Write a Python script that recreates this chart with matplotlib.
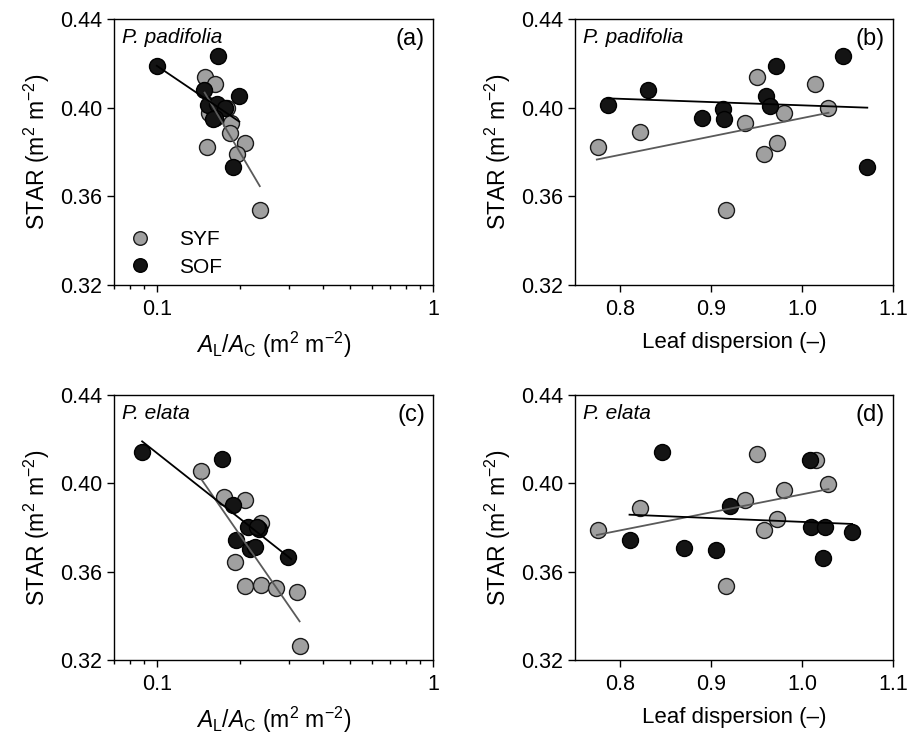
import numpy as np
import matplotlib
matplotlib.use("Agg")
import matplotlib.pyplot as plt
from matplotlib.ticker import FixedLocator, FixedFormatter, NullFormatter, LogLocator

plt.rcParams['font.family'] = ['Liberation Sans', 'DejaVu Sans']
plt.rcParams['mathtext.fontset'] = 'custom'
plt.rcParams['mathtext.rm'] = 'Liberation Sans'
plt.rcParams['mathtext.it'] = 'Liberation Sans:italic'

# ---------------- data ----------------
# Panel (a): P. padifolia, STAR vs AL/AC
a_syf_x = [0.150, 0.163, 0.180, 0.1545, 0.185, 0.184, 0.152, 0.208, 0.195, 0.236]
a_syf_y = [0.4138, 0.4107, 0.3997, 0.3975, 0.3929, 0.3887, 0.3823, 0.3839, 0.3790, 0.3537]
a_sof_x = [0.100, 0.166, 0.148, 0.198, 0.153, 0.165, 0.176, 0.163, 0.160, 0.1886]
a_sof_y = [0.4189, 0.4234, 0.4080, 0.4053, 0.4012, 0.4015, 0.3997, 0.3952, 0.3947, 0.3733]
a_syf_line_x = [0.149, 0.236]
a_syf_line_y = [0.4068, 0.3646]
a_sof_line_x = [0.100, 0.199]
a_sof_line_y = [0.4189, 0.3937]

# Panel (b): P. padifolia, STAR vs leaf dispersion
b_syf_x = [0.775, 0.821, 0.9165, 0.9368, 0.9504, 0.9585, 0.9724, 0.9798, 1.0143, 1.029]
b_syf_y = [0.3823, 0.3888, 0.3537, 0.3929, 0.4137, 0.3793, 0.3842, 0.3974, 0.4107, 0.3997]
b_sof_x = [0.786, 0.830, 0.890, 0.913, 0.9136, 0.9607, 0.9643, 0.971, 1.0445, 1.071]
b_sof_y = [0.4012, 0.4080, 0.3955, 0.3994, 0.3947, 0.4054, 0.4009, 0.4186, 0.4234, 0.3733]
b_syf_line_x = [0.774, 1.029]
b_syf_line_y = [0.3766, 0.3977]
b_sof_line_x = [0.786, 1.0717]
b_sof_line_y = [0.4042, 0.4000]

# Panel (c): P. elata, STAR vs AL/AC
c_syf_x = [0.1447, 0.1758, 0.2089, 0.238, 0.1922, 0.208, 0.2388, 0.2706, 0.3215, 0.3289]
c_syf_y = [0.4054, 0.3937, 0.3926, 0.3820, 0.3642, 0.3534, 0.3541, 0.3526, 0.3506, 0.3265]
c_sof_x = [0.0885, 0.1725, 0.1886, 0.2138, 0.234, 0.1938, 0.2168, 0.226, 0.2299, 0.2997]
c_sof_y = [0.4143, 0.4110, 0.3902, 0.3804, 0.3793, 0.3745, 0.3703, 0.3710, 0.3801, 0.3665]
c_syf_line_x = [0.1447, 0.3289]
c_syf_line_y = [0.4020, 0.3375]
c_sof_line_x = [0.0885, 0.3066]
c_sof_line_y = [0.4190, 0.3657]

# Panel (d): P. elata, STAR vs leaf dispersion
d_syf_x = [0.775, 0.821, 0.9165, 0.9368, 0.9504, 0.9585, 0.9724, 0.9798, 1.015, 1.029]
d_syf_y = [0.3790, 0.3887, 0.3534, 0.3926, 0.4134, 0.3790, 0.3838, 0.3971, 0.4104, 0.3997]
d_sof_x = [0.846, 0.810, 0.870, 0.9055, 0.921, 1.0085, 1.0092, 1.025, 1.0232, 1.0544]
d_sof_y = [0.4143, 0.3745, 0.3707, 0.3700, 0.3899, 0.4106, 0.3801, 0.3804, 0.3662, 0.3781]
d_syf_line_x = [0.774, 1.029]
d_syf_line_y = [0.3766, 0.3974]
d_sof_line_x = [0.810, 1.055]
d_sof_line_y = [0.3858, 0.3816]

species = ["P. padifolia", "P. padifolia", "P. elata", "P. elata"]
panel_tags = ["(a)", "(b)", "(c)", "(d)"]
y_ticks = [0.32, 0.36, 0.40, 0.44]
y_ticklabels = ["0.32", "0.36", "0.40", "0.44"]
disp_ticks = [0.8, 0.9, 1.0, 1.1]
disp_ticklabels = ["0.8", "0.9", "1.0", "1.1"]

# ---------------- style ----------------
SYF_FC = "#a0a0a0"
SOF_FC = "#141414"
SYF_LC = "#5a5a5a"
SOF_LC = "#000000"
MS = 11.5

fig = plt.figure(figsize=(9.09, 7.41), dpi=100)
W, H = 909, 741
def add_ax(x0, y0, x1, y1):
    return fig.add_axes([x0 / W, 1 - y1 / H, (x1 - x0) / W, (y1 - y0) / H])

axA = add_ax(114, 19, 433, 285)
axB = add_ax(575, 19, 893, 285)
axC = add_ax(114, 395, 433, 660)
axD = add_ax(575, 395, 893, 660)

panels = [
    (axA, a_syf_x, a_syf_y, a_sof_x, a_sof_y, a_syf_line_x, a_syf_line_y, a_sof_line_x, a_sof_line_y, True),
    (axB, b_syf_x, b_syf_y, b_sof_x, b_sof_y, b_syf_line_x, b_syf_line_y, b_sof_line_x, b_sof_line_y, False),
    (axC, c_syf_x, c_syf_y, c_sof_x, c_sof_y, c_syf_line_x, c_syf_line_y, c_sof_line_x, c_sof_line_y, True),
    (axD, d_syf_x, d_syf_y, d_sof_x, d_sof_y, d_syf_line_x, d_syf_line_y, d_sof_line_x, d_sof_line_y, False),
]

for i, (ax, sx, sy, ox, oy, slx, sly, olx, oly, islog) in enumerate(panels):
    ax.plot(sx, sy, 'o', ms=MS, mfc=SYF_FC, mec='#1a1a1a', mew=1.0, ls='none', zorder=3, label='SYF')
    ax.plot(ox, oy, 'o', ms=MS, mfc=SOF_FC, mec='#000000', mew=1.0, ls='none', zorder=3, label='SOF')
    ax.plot(slx, sly, '-', color=SYF_LC, lw=1.3, zorder=4)
    ax.plot(olx, oly, '-', color=SOF_LC, lw=1.3, zorder=4)

    ax.set_ylim(0.32, 0.44)
    ax.set_yticks(y_ticks)
    ax.set_yticklabels(y_ticklabels)
    ax.set_ylabel(r"STAR (m$^{2}$ m$^{-2}$)", fontsize=16.5, labelpad=6)

    if islog:
        ax.set_xscale('log')
        ax.set_xlim(0.07, 1.0)
        ax.xaxis.set_major_locator(FixedLocator([0.1, 1.0]))
        ax.xaxis.set_major_formatter(FixedFormatter(["0.1", "1"]))
        ax.xaxis.set_minor_locator(LogLocator(base=10, subs=np.arange(2, 10) * 1.0, numticks=20))
        ax.xaxis.set_minor_formatter(NullFormatter())
        ax.set_xlabel(r"$\mathit{A}_{\mathrm{L}}/\mathit{A}_{\mathrm{C}}$ (m$^{2}$ m$^{-2}$)",
                      fontsize=16.5, labelpad=7)
    else:
        ax.set_xlim(0.75, 1.1)
        ax.set_xticks(disp_ticks)
        ax.set_xticklabels(disp_ticklabels)
        ax.set_xlabel("Leaf dispersion (\u2013)", fontsize=16, labelpad=9)

    ax.tick_params(axis='both', which='major', direction='out', length=5, width=1.0, labelsize=15.5,
                   top=False, right=False)
    ax.tick_params(axis='x', which='major', pad=5)
    ax.tick_params(axis='x', which='minor', direction='out', length=3, width=1.0)
    for s in ax.spines.values():
        s.set_linewidth(1.0)

    ax.text(0.025, 0.965, species[i], transform=ax.transAxes, ha='left', va='top',
            fontsize=15, style='italic')
    ax.text(0.975, 0.965, panel_tags[i], transform=ax.transAxes, ha='right', va='top', fontsize=17)

leg = axA.legend(loc='lower left', frameon=False, fontsize=15, handlelength=1.0, markerscale=0.85,
                 handletextpad=1.35, borderaxespad=0.0, borderpad=0.75, labelspacing=0.4,
                 bbox_to_anchor=(0.0, -0.027))

fig.savefig("out.png", dpi=100)
